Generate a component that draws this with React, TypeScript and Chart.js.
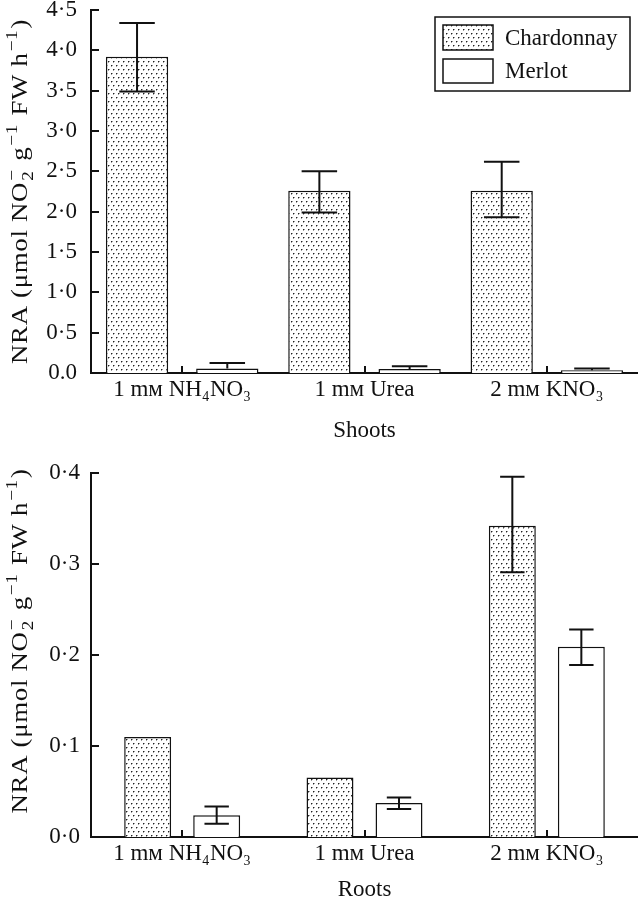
import React, { useEffect, useRef } from "react";
import { Chart, registerables } from "chart.js";
Chart.register(...registerables);

// ---------- data ----------
const categories = ["1 mᴍ NH₄NO₃", "1 mᴍ Urea", "2 mᴍ KNO₃"];
const seriesNames = ["Chardonnay", "Merlot"];

const shootsChardonnay = [3.92, 2.26, 2.26];
const shootsChardonnayLow = [3.49, 1.99, 1.93];
const shootsChardonnayHigh = [4.34, 2.5, 2.62];
const shootsMerlot = [0.055, 0.05, 0.035];
const shootsMerlotLow = [0.055, 0.05, 0.035];
const shootsMerlotHigh = [0.123, 0.085, 0.055];
const shootsTickValues = [0, 0.5, 1, 1.5, 2, 2.5, 3, 3.5, 4, 4.5];
const shootsTickLabels = ["0.0", "0·5", "1·0", "1·5", "2·0", "2·5", "3·0", "3·5", "4·0", "4·5"];
const shootsTitle = "Shoots";

const rootsChardonnay = [0.11, 0.0655, 0.342];
const rootsChardonnayLow = [0.11, 0.0655, 0.291];
const rootsChardonnayHigh = [0.11, 0.0655, 0.396];
const rootsMerlot = [0.024, 0.0374, 0.209];
const rootsMerlotLow = [0.0146, 0.0308, 0.189];
const rootsMerlotHigh = [0.0336, 0.0435, 0.228];
const rootsTickValues = [0, 0.1, 0.2, 0.3, 0.4];
const rootsTickLabels = ["0·0", "0·1", "0·2", "0·3", "0·4"];
const rootsTitle = "Roots";

type Seg =
  | { k: "n"; t: string }
  | { k: "sup"; t: string }
  | { k: "stack"; sub: string; sup: string };
const yTitleSegs: Seg[] = [
  { k: "n", t: "NRA (μmol NO" },
  { k: "stack", sub: "2", sup: "−" },
  { k: "n", t: " g" },
  { k: "sup", t: "−1" },
  { k: "n", t: " FW h" },
  { k: "sup", t: "−1" },
  { k: "n", t: ")" },
];

// ---------- styles ----------
const FAMILY = "'Liberation Serif', 'Times New Roman', 'DejaVu Serif', serif";
const INK = "#111";
const FS = 23;
const TITLE_FS = 24;

function makePattern(): CanvasPattern | string {
  const tile = document.createElement("canvas");
  tile.width = 5;
  tile.height = 8;
  const g = tile.getContext("2d")!;
  g.fillStyle = "#fff";
  g.fillRect(0, 0, 5, 8);
  g.fillStyle = "#222";
  g.fillRect(1, 1, 1, 1);
  g.fillRect(3, 5, 1, 1);
  g.fillStyle = "rgba(40,40,40,0.45)";
  g.fillRect(2, 1, 1, 1);
  g.fillRect(4, 5, 1, 1);
  g.fillRect(1, 2, 1, 1);
  g.fillRect(3, 6, 1, 1);
  const p = document.createElement("canvas").getContext("2d")!.createPattern(tile, "repeat");
  return p || "#ccc";
}

function errorBarsPlugin(capRatio: number) {
  return {
    id: "errbars",
    afterDatasetsDraw(chart: any) {
      const ctx = chart.ctx;
      const ys = chart.scales.y;
      ctx.save();
      ctx.strokeStyle = INK;
      ctx.lineWidth = 2;
      chart.data.datasets.forEach((ds: any, di: number) => {
        const meta = chart.getDatasetMeta(di);
        meta.data.forEach((el: any, i: number) => {
          const v = ds.data[i];
          const lo = ds.errLow[i];
          const hi = ds.errHigh[i];
          const x = el.x;
          const half = (el.width * capRatio) / 2;
          const yv = ys.getPixelForValue(v);
          const yh = ys.getPixelForValue(hi);
          const yl = ys.getPixelForValue(lo);
          ctx.beginPath();
          if (hi > v) {
            ctx.moveTo(x, yv);
            ctx.lineTo(x, yh);
            ctx.moveTo(x - half, yh);
            ctx.lineTo(x + half, yh);
          }
          if (lo < v) {
            ctx.moveTo(x, yv);
            ctx.lineTo(x, yl);
            ctx.moveTo(x - half, yl);
            ctx.lineTo(x + half, yl);
          }
          ctx.stroke();
        });
      });
      ctx.restore();
    },
  };
}

const innerTicksPlugin = {
  id: "innerTicks",
  afterDraw(chart: any) {
    const ctx = chart.ctx;
    const { left, bottom } = chart.chartArea;
    const ys = chart.scales.y;
    const xs = chart.scales.x;
    ctx.save();
    ctx.strokeStyle = INK;
    ctx.lineWidth = 2;
    ctx.beginPath();
    ys.ticks.forEach((t: any) => {
      const y = Math.round(ys.getPixelForValue(t.value));
      ctx.moveTo(left, y);
      ctx.lineTo(left + 8, y);
    });
    chart.data.labels.forEach((_: any, i: number) => {
      const x = Math.round(xs.getPixelForValue(i));
      ctx.moveTo(x, bottom);
      ctx.lineTo(x, bottom - 7);
    });
    ctx.stroke();
    ctx.restore();
  },
};

function yTitlePlugin(dy: number, baselineX: number, targetLen: number) {
  return {
    id: "ytitle",
    afterDraw(chart: any) {
      const ctx = chart.ctx;
      const ca = chart.chartArea;
      const cy = (ca.top + ca.bottom) / 2 + dy;
      const big = `${TITLE_FS}px ${FAMILY}`;
      const small = `${Math.round(TITLE_FS * 0.7)}px ${FAMILY}`;
      ctx.save();
      try {
        (ctx as any).letterSpacing = "0.6px";
      } catch (e) {}
      const widths: number[] = yTitleSegs.map((s) => {
        if (s.k === "n") {
          ctx.font = big;
          return ctx.measureText(s.t).width;
        }
        ctx.font = small;
        if (s.k === "sup") return ctx.measureText(s.t).width + 2;
        return Math.max(ctx.measureText(s.sub).width, ctx.measureText(s.sup).width) + 2;
      });
      const W = widths.reduce((a, b) => a + b, 0);
      ctx.translate(baselineX, cy);
      ctx.rotate(-Math.PI / 2);
      ctx.scale(targetLen / W, 1);
      ctx.fillStyle = INK;
      ctx.textBaseline = "alphabetic";
      ctx.textAlign = "left";
      let x = -W / 2;
      yTitleSegs.forEach((s, i) => {
        if (s.k === "n") {
          ctx.font = big;
          ctx.fillText(s.t, x, 0);
        } else if (s.k === "sup") {
          ctx.font = small;
          ctx.fillText(s.t, x + 1, -TITLE_FS * 0.42);
        } else {
          ctx.font = small;
          ctx.fillText(s.sup, x + 1, -TITLE_FS * 0.42);
          ctx.fillText(s.sub, x + 1, TITLE_FS * 0.25);
        }
        x += widths[i];
      });
      ctx.restore();
    },
  };
}

function legendPlugin() {
  return {
    id: "boxLegend",
    afterDraw(chart: any) {
      const ctx = chart.ctx;
      const ca = chart.chartArea;
      const left = ca.right - 203;
      const top = ca.top + 7;
      ctx.save();
      ctx.fillStyle = "#fff";
      ctx.fillRect(left, top, 195, 74);
      ctx.strokeStyle = INK;
      ctx.lineWidth = 1.5;
      ctx.strokeRect(left, top, 195, 74);
      ctx.font = `${FS}px ${FAMILY}`;
      ctx.textBaseline = "middle";
      ctx.textAlign = "left";
      const rows = [
        { y: top + 8, h: 25 },
        { y: top + 42, h: 24 },
      ];
      chart.data.datasets.forEach((ds: any, i: number) => {
        const r = rows[i];
        ctx.fillStyle = ds.backgroundColor;
        ctx.fillRect(left + 8, r.y, 50, r.h);
        ctx.strokeRect(left + 8, r.y, 50, r.h);
        ctx.fillStyle = INK;
        ctx.fillText(ds.label, left + 70, r.y + r.h / 2 + 1);
      });
      ctx.restore();
    },
  };
}

type PanelProps = {
  top: number;
  height: number;
  chard: number[];
  chardLow: number[];
  chardHigh: number[];
  merlot: number[];
  merlotLow: number[];
  merlotHigh: number[];
  tickValues: number[];
  tickLabels: string[];
  title: string;
  padTop: number;
  xHeight: number;
  catPct: number;
  barPct: number;
  capRatio: number;
  yLabelPad: number;
  titlePad: number;
  showLegend: boolean;
  yTitleDy: number;
};

function Panel(p: PanelProps) {
  const ref = useRef<HTMLCanvasElement>(null);
  useEffect(() => {
    const pattern = makePattern();
    const font = { family: FAMILY, size: FS, lineHeight: 1.2 };
    const plugins: any[] = [errorBarsPlugin(p.capRatio), innerTicksPlugin, yTitlePlugin(p.yTitleDy, 27, 345)];
    if (p.showLegend) plugins.push(legendPlugin());
    const chart = new Chart(ref.current!, {
      type: "bar",
      data: {
        labels: categories,
        datasets: [
          {
            label: seriesNames[0],
            data: p.chard,
            backgroundColor: pattern as any,
            borderColor: INK,
            borderWidth: 1.5,
            errLow: p.chardLow,
            errHigh: p.chardHigh,
          } as any,
          {
            label: seriesNames[1],
            data: p.merlot,
            backgroundColor: "#fff",
            borderColor: INK,
            borderWidth: 1.5,
            errLow: p.merlotLow,
            errHigh: p.merlotHigh,
          } as any,
        ],
      },
      options: {
        responsive: false,
        animation: false,
        events: [],
        layout: { padding: { top: p.padTop, left: 0, right: 0, bottom: 0 } },
        datasets: { bar: { categoryPercentage: p.catPct, barPercentage: p.barPct } },
        plugins: { legend: { display: false }, tooltip: { enabled: false } },
        scales: {
          x: {
            grid: { display: false, drawTicks: false },
            border: { display: true, color: INK, width: 2 },
            ticks: { color: INK, font, padding: 3, maxRotation: 0, autoSkip: false },
            title: {
              display: true,
              text: p.title,
              color: INK,
              font: { family: FAMILY, size: FS, lineHeight: 1.0 },
              padding: { top: 0, bottom: p.titlePad },
            },
            afterFit: (s: any) => {
              s.height = p.xHeight;
              s.paddingLeft = 0;
              s.paddingRight = 0;
            },
          },
          y: {
            min: p.tickValues[0],
            max: p.tickValues[p.tickValues.length - 1],
            grid: { display: false, drawTicks: false },
            border: { display: true, color: INK, width: 2 },
            afterBuildTicks: (s: any) => {
              s.ticks = p.tickValues.map((v) => ({ value: v }));
            },
            ticks: {
              color: INK,
              font,
              padding: p.yLabelPad,
              callback: (_v: any, i: number) => p.tickLabels[i],
            },
            afterFit: (s: any) => {
              s.width = 91;
              s.paddingTop = 0;
              s.paddingBottom = 0;
            },
          },
        },
      } as any,
      plugins,
    });
    return () => chart.destroy();
  }, []);
  return (
    <canvas
      ref={ref}
      width={638}
      height={p.height}
      style={{ position: "absolute", left: 0, top: p.top, width: 638, height: p.height, display: "block" }}
    />
  );
}

export default function App() {
  return (
    <div style={{ position: "absolute", left: 0, top: 0, width: 638, height: 900, overflow: "hidden", background: "#fff" }}>
      <Panel
        top={0}
        height={450}
        chard={shootsChardonnay}
        chardLow={shootsChardonnayLow}
        chardHigh={shootsChardonnayHigh}
        merlot={shootsMerlot}
        merlotLow={shootsMerlotLow}
        merlotHigh={shootsMerlotHigh}
        tickValues={shootsTickValues}
        tickLabels={shootsTickLabels}
        title={shootsTitle}
        padTop={10}
        xHeight={77}
        catPct={0.99}
        barPct={0.69}
        capRatio={0.57}
        yLabelPad={14}
        titlePad={8}
        showLegend={true}
        yTitleDy={0}
      />
      <Panel
        top={450}
        height={450}
        chard={rootsChardonnay}
        chardLow={rootsChardonnayLow}
        chardHigh={rootsChardonnayHigh}
        merlot={rootsMerlot}
        merlotLow={rootsMerlotLow}
        merlotHigh={rootsMerlotHigh}
        tickValues={rootsTickValues}
        tickLabels={rootsTickLabels}
        title={rootsTitle}
        padTop={23}
        xHeight={63}
        catPct={0.757}
        barPct={0.68}
        capRatio={0.52}
        yLabelPad={11}
        titlePad={-1}
        showLegend={false}
        yTitleDy={-14}
      />
    </div>
  );
}
